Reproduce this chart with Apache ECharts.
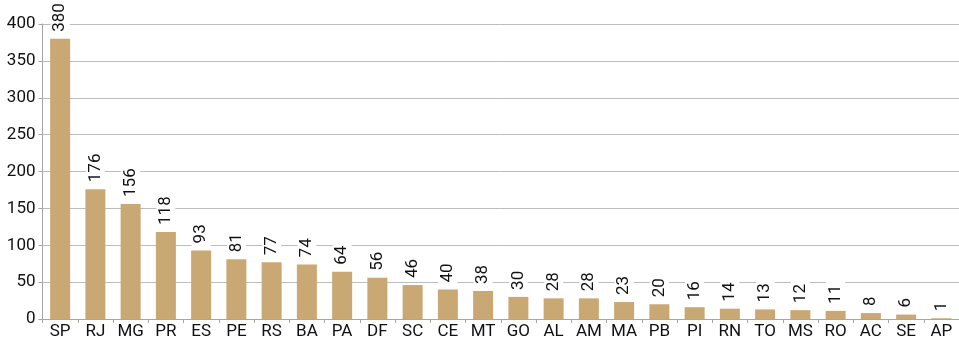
<!DOCTYPE html>
<html>
<head>
<meta charset="utf-8">
<script src="https://cdn.jsdelivr.net/npm/echarts@6/dist/echarts.min.js"></script>
<style>
  html, body { margin: 0; padding: 0; background: #fff; }
  #chart { width: 959px; height: 340px; }
</style>
</head>
<body>
<div id="chart"></div>
<script>
// Count per Brazilian state
const states = ['SP','RJ','MG','PR','ES','PE','RS','BA','PA','DF','SC','CE','MT','GO','AL','AM','MA','PB','PI','RN','TO','MS','RO','AC','SE','AP'];
const counts = [380,176,156,118,93,81,77,74,64,56,46,40,38,30,28,28,23,20,16,14,13,12,11,8,6,1];
const yTicks = { min: 0, max: 400, interval: 50 };

const font = 'Roboto, "Liberation Sans", sans-serif';

const chart = echarts.init(document.getElementById('chart'), null, { renderer: 'canvas' });
chart.setOption({
  animation: false,
  grid: { left: 42.5, top: 24, width: 927, height: 295, containLabel: false },
  xAxis: {
    type: 'category',
    data: states,
    boundaryGap: true,
    axisLine: { show: true, lineStyle: { color: '#a6a6a6', width: 1 } },
    axisTick: { show: true, alignWithLabel: false, length: 4, lineStyle: { color: '#a6a6a6' } },
    axisLabel: { color: '#111', fontFamily: font, fontSize: 17, margin: 4, interval: 0 }
  },
  yAxis: {
    type: 'value',
    min: yTicks.min,
    max: yTicks.max,
    interval: yTicks.interval,
    axisLine: { show: true, lineStyle: { color: '#a6a6a6', width: 1 } },
    axisTick: { show: true, length: 4, lineStyle: { color: '#a6a6a6' } },
    axisLabel: { color: '#111', fontFamily: font, fontSize: 17, margin: 7 },
    splitLine: { show: true, lineStyle: { color: '#bdbdbd', width: 1 } }
  },
  series: [{
    type: 'bar',
    data: counts,
    barWidth: 20,
    itemStyle: { color: '#c9a874' },
    label: {
      show: true,
      position: 'top',
      rotate: 90,
      align: 'left',
      verticalAlign: 'middle',
      distance: 4,
      color: '#111',
      fontFamily: font,
      fontSize: 17,
      backgroundColor: '#fff',
      padding: [1, 3, 1, 3]
    }
  }]
});
</script>
</body>
</html>
